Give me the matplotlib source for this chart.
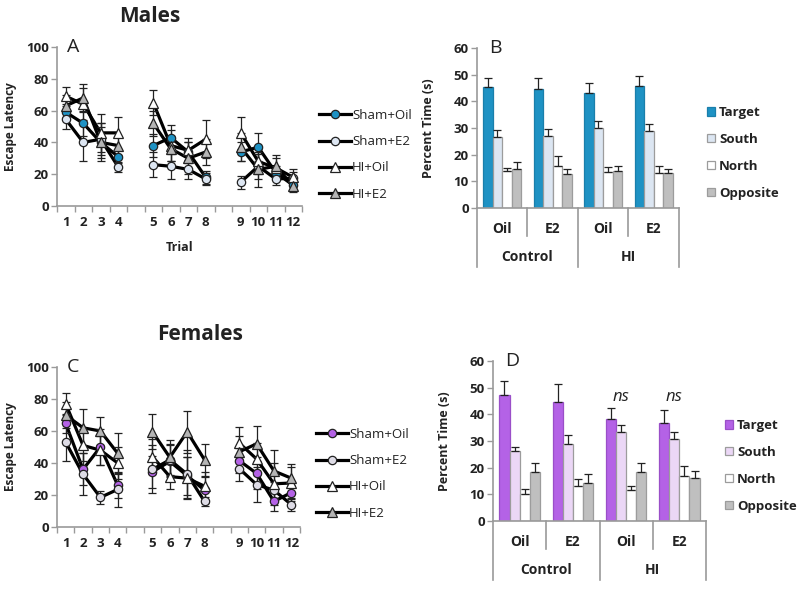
import numpy as np
import matplotlib
matplotlib.use("Agg")
import matplotlib.pyplot as plt
from matplotlib.lines import Line2D
from matplotlib.patches import Patch
import matplotlib.transforms as mtransforms

plt.rcParams['font.family'] = ['Open Sans', 'DejaVu Sans']

# ---------------- data ----------------
trials = ['1', '2', '3', '4', '5', '6', '7', '8', '9', '10', '11', '12']
line_groups = ['Sham+Oil', 'Sham+E2', 'HI+Oil', 'HI+E2']

# Males (panel A) escape latency
A_sham_oil = [59, 52, 40, 31, 38, 43, 34, 18, 34, 37, 21, 13]
A_sham_e2 = [54.5, 40, 42, 24.5, 26, 25, 23, 17, 15, 25, 17, 17.5]
A_hi_oil = [69, 64, 46, 46, 65, 38, 35, 42, 46, 28, 24, 18]
A_hi_e2 = [63, 68, 40, 38, 52, 36, 30, 34, 37, 23, 25, 12.5]
A_sham_oil_err = [5, 8, 10, 4, 7, 8, 6, 4, 6, 9, 4, 3]
A_sham_e2_err = [6, 12, 10, 3, 8, 8, 6, 4, 4, 8, 4, 4]
A_hi_oil_err = [6, 10, 12, 10, 8, 10, 8, 12, 10, 8, 6, 5]
A_hi_e2_err = [7, 9, 12, 6, 8, 8, 10, 8, 9, 11, 7, 4]

# Females (panel C) escape latency
C_sham_oil = [64.7, 36, 50, 26, 34.5, 41, 32, 23, 41.5, 33.5, 16, 21.5]
C_sham_e2 = [53, 33, 18.5, 23.5, 36, 42, 33, 16, 36.5, 26.5, 23, 14]
C_hi_oil = [77, 51, 48, 40, 44, 31.5, 30.5, 25.5, 52.5, 42.5, 27, 27.5]
C_hi_e2 = [70, 62, 60, 46, 59.5, 43.5, 59.5, 42, 47, 52, 35, 30.5]
C_sham_oil_err = [6, 10, 11, 8, 10, 10, 12, 8, 8, 10, 6, 5]
C_sham_e2_err = [12, 13, 4, 11, 15, 10, 15, 3, 8, 11, 5, 4]
C_hi_oil_err = [7, 10, 9, 10, 11, 8, 13, 9, 10, 10, 13, 10]
C_hi_e2_err = [8, 12, 9, 13, 11, 11, 13, 10, 10, 11, 13, 9]

# Probe trial bars
treat_labels = ['Oil', 'E2', 'Oil', 'E2']
cond_labels = ['Control', 'HI']
quadrants = ['Target', 'South', 'North', 'Opposite']

B_target = [45.5, 44.5, 43.3, 45.6]
B_south = [26.6, 27.1, 30.0, 28.7]
B_north = [13.7, 15.9, 13.4, 13.2]
B_opposite = [14.8, 12.9, 14.0, 13.1]
B_target_err = [3.4, 4.4, 3.5, 3.8]
B_south_err = [2.8, 2.5, 2.7, 2.9]
B_north_err = [1.3, 3.7, 2.0, 2.4]
B_opposite_err = [2.3, 1.7, 1.6, 1.5]

D_target = [47.1, 44.6, 38.4, 36.9]
D_south = [26.2, 28.8, 33.2, 30.8]
D_north = [10.0, 13.2, 11.6, 16.8]
D_opposite = [18.2, 14.3, 18.5, 16.1]
D_target_err = [5.4, 6.6, 4.1, 4.9]
D_south_err = [1.4, 3.4, 2.7, 2.4]
D_north_err = [2.0, 2.6, 1.5, 3.8]
D_opposite_err = [3.4, 3.3, 3.1, 2.7]

ns_groups = [2, 3]

# ---------------- layout helpers ----------------
W, H = 800, 594
fig = plt.figure(figsize=(W / 100, H / 100), dpi=100)


def px_axes(x0, y0, x1, y1):
    return fig.add_axes([x0 / W, 1 - y1 / H, (x1 - x0) / W, (y1 - y0) / H])


AXC = '#9a9a9a'
TXT = '#222222'

# slot positions of trials: blocks of 4 with an empty slot between blocks
slots = np.array([0, 1, 2, 3, 5, 6, 7, 8, 10, 11, 12, 13])
blocks = [slice(0, 4), slice(4, 8), slice(8, 12)]


def line_panel(ax, series, errs, styles, letter, show_xlabel):
    for vals, err, st in zip(series, errs, styles):
        vals = np.asarray(vals, float)
        err = np.asarray(err, float)
        for b in blocks:
            ax.plot(slots[b], vals[b], '-', color='black', lw=2.3, zorder=3,
                    solid_capstyle='round')
        ax.errorbar(slots, vals, yerr=err, fmt='none', ecolor='#222222',
                    elinewidth=0.9, capsize=2.6, capthick=0.9, zorder=4)
        ax.plot(slots, vals, linestyle='none', marker=st['marker'],
                markersize=st['ms'], markerfacecolor=st['fc'],
                markeredgecolor='#222222', markeredgewidth=0.9, zorder=5)
    ax.set_xlim(-0.5, 13.5)
    ax.set_ylim(0, 100)
    ax.set_yticks(np.arange(0, 101, 20))
    ax.set_xticks(slots)
    ax.set_xticklabels(trials)
    ax.set_xticks(np.arange(-0.5, 14, 1), minor=True)
    ax.tick_params(axis='x', which='major', length=0, pad=7)
    ax.tick_params(axis='x', which='minor', length=4, color=AXC, width=1)
    ax.tick_params(axis='y', length=4, color=AXC, width=1, pad=2)
    for lab in ax.get_xticklabels() + ax.get_yticklabels():
        lab.set_fontweight('bold')
        lab.set_fontsize(9.5)
        lab.set_color(TXT)
    for s in ['top', 'right']:
        ax.spines[s].set_visible(False)
    for s in ['left', 'bottom']:
        ax.spines[s].set_color(AXC)
        ax.spines[s].set_linewidth(1.2)
    ax.set_ylabel('Escape Latency', fontsize=8.5, fontweight='bold', color=TXT)
    ax.yaxis.set_label_coords(-0.165, 0.5)
    if show_xlabel:
        ax.set_xlabel('Trial', fontsize=9, fontweight='bold', color=TXT)
        ax.xaxis.set_label_coords(0.5, -0.22)
    ax.text(0.065, 1.0, letter, transform=ax.transAxes, fontsize=14,
            ha='center', va='center', color=TXT)
    ax.patch.set_alpha(0)


def line_legend(ax, styles, x, y, spacing):
    handles = [Line2D([0], [0], color='black', lw=2.3, marker=st['marker'],
                      markersize=st['ms'], markerfacecolor=st['fc'],
                      markeredgecolor='#222222', markeredgewidth=0.9)
               for st in styles]
    leg = ax.legend(handles, line_groups, loc='upper left',
                    bbox_to_anchor=(x / W, 1 - y / H),
                    bbox_transform=fig.transFigure, frameon=False,
                    fontsize=9.5, handlelength=2.4, handletextpad=0.1,
                    labelspacing=spacing, borderaxespad=0, borderpad=0)
    for t in leg.get_texts():
        t.set_color(TXT)


def bar_panel(ax, means, errs, colors, edges, letter):
    n = len(treat_labels)
    x = np.arange(n)
    w = 0.19
    offs = np.array([-1.5, -0.5, 0.5, 1.5]) * w
    for i in range(4):
        ax.bar(x + offs[i], means[i], width=w, color=colors[i],
               edgecolor=edges[i], linewidth=0.9, zorder=2)
        ax.errorbar(x + offs[i], means[i],
                    yerr=[np.zeros(n), np.asarray(errs[i])], fmt='none',
                    ecolor='#222222', elinewidth=0.9, capsize=2.6,
                    capthick=0.9, zorder=3)
    ax.set_xlim(-0.5, n - 0.5)
    ax.set_ylim(0, 60)
    ax.set_yticks(np.arange(0, 61, 10))
    ax.set_xticks([])
    ax.tick_params(axis='y', length=4, color=AXC, width=1, pad=2)
    for lab in ax.get_yticklabels():
        lab.set_fontweight('bold')
        lab.set_fontsize(9.5)
        lab.set_color(TXT)
    for s in ['top', 'right']:
        ax.spines[s].set_visible(False)
    for s in ['left', 'bottom']:
        ax.spines[s].set_color(AXC)
        ax.spines[s].set_linewidth(1.2)
    trans = mtransforms.blended_transform_factory(ax.transData, ax.transAxes)
    # category separators (multi-level axis)
    for xs in [0.5, 2.5]:
        ax.plot([xs, xs], [0, -0.175], color=AXC, lw=1.2, transform=trans,
                clip_on=False)
    for xs in [-0.5, 1.5, 3.5]:
        ax.plot([xs, xs], [0, -0.37], color=AXC, lw=1.2, transform=trans,
                clip_on=False)
    for i, lab in enumerate(treat_labels):
        ax.text(i, -0.13, lab, transform=trans, ha='center', va='center',
                fontsize=10, fontweight='bold', color=TXT)
    for j, lab in enumerate(cond_labels):
        ax.text(2 * j + 0.5, -0.305, lab, transform=trans, ha='center',
                va='center', fontsize=10, fontweight='bold', color=TXT)
    ax.set_ylabel('Percent Time (s)', fontsize=9, fontweight='bold', color=TXT)
    ax.text(0.09, 1.0, letter, transform=ax.transAxes, fontsize=14,
            ha='center', va='center', color=TXT)
    ax.patch.set_alpha(0)


def bar_legend(ax, colors, edges, x, y):
    handles = [Patch(facecolor=c, edgecolor=e, linewidth=0.9)
               for c, e in zip(colors, edges)]
    leg = ax.legend(handles, quadrants, loc='upper left',
                    bbox_to_anchor=(x / W, 1 - y / H),
                    bbox_transform=fig.transFigure, frameon=False,
                    fontsize=9.5, handlelength=0.6, handleheight=0.6,
                    handletextpad=0.3, labelspacing=1.05, borderaxespad=0,
                    borderpad=0)
    for t in leg.get_texts():
        t.set_fontweight('bold')
        t.set_color(TXT)


# ---------------- Panel A ----------------
stylesA = [
    dict(marker='o', ms=6, fc='#1e92c4'),
    dict(marker='o', ms=6, fc='#dde6f2'),
    dict(marker='^', ms=6.5, fc='#ffffff'),
    dict(marker='^', ms=6.5, fc='#b5b5b5'),
]
axA = px_axes(57, 47, 302, 206)
line_panel(axA, [A_sham_oil, A_sham_e2, A_hi_oil, A_hi_e2],
           [A_sham_oil_err, A_sham_e2_err, A_hi_oil_err, A_hi_e2_err],
           stylesA, 'A', True)
line_legend(axA, stylesA, 319, 109, 1.0)

# ---------------- Panel C ----------------
stylesC = [
    dict(marker='o', ms=6, fc='#b462e6'),
    dict(marker='o', ms=6, fc='#dedce6'),
    dict(marker='^', ms=6.5, fc='#ffffff'),
    dict(marker='^', ms=6.5, fc='#b5b5b5'),
]
axC = px_axes(57, 367, 300, 527)
line_panel(axC, [C_sham_oil, C_sham_e2, C_hi_oil, C_hi_e2],
           [C_sham_oil_err, C_sham_e2_err, C_hi_oil_err, C_hi_e2_err],
           stylesC, 'C', False)
line_legend(axC, stylesC, 316, 428, 1.0)

# ---------------- Panel B ----------------
colorsB = ['#1e92c4', '#dce6f2', '#ffffff', '#bfbfbf']
edgesB = ['#1a7fab', '#9c9c9c', '#9c9c9c', '#9c9c9c']
axB = px_axes(477, 48, 679, 208)
bar_panel(axB, [B_target, B_south, B_north, B_opposite],
          [B_target_err, B_south_err, B_north_err, B_opposite_err],
          colorsB, edgesB, 'B')
axB.yaxis.set_label_coords(-0.21, 0.5)
bar_legend(axB, colorsB, edgesB, 707, 106)

# ---------------- Panel D ----------------
colorsD = ['#b462e6', '#ebd7f6', '#ffffff', '#bfbfbf']
edgesD = ['#9a4fc8', '#9c9c9c', '#9c9c9c', '#9c9c9c']
axD = px_axes(493, 361, 706, 521)
bar_panel(axD, [D_target, D_south, D_north, D_opposite],
          [D_target_err, D_south_err, D_north_err, D_opposite_err],
          colorsD, edgesD, 'D')
axD.yaxis.set_label_coords(-0.195, 0.5)
for g in ns_groups:
    axD.text(g - 0.1, 46.5, 'ns', ha='center', va='center', fontsize=12,
             fontstyle='italic', color=TXT)
bar_legend(axD, colorsD, edgesD, 725, 419)

# ---------------- titles ----------------
fig.text(150 / W, 1 - 16 / H, 'Males', ha='center', va='center',
         fontsize=15, fontweight='bold', color=TXT)
fig.text(200 / W, 1 - 334 / H, 'Females', ha='center', va='center',
         fontsize=15, fontweight='bold', color=TXT)

fig.savefig('out.png', dpi=100, facecolor='white')
